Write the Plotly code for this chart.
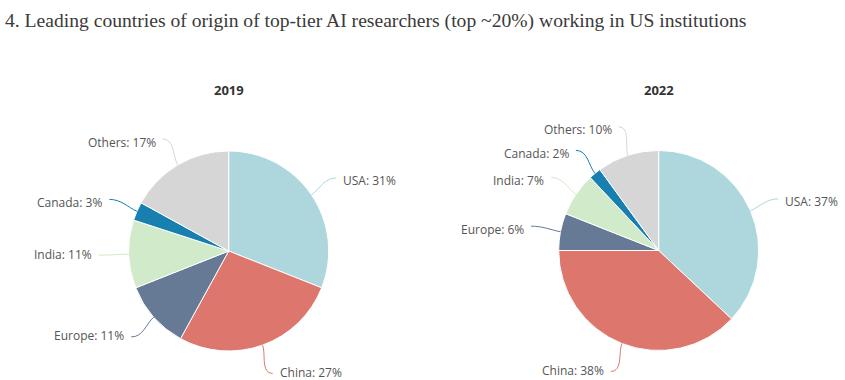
import math
import plotly.graph_objects as go

# ---- data ----
categories = ["USA", "China", "Europe", "India", "Canada", "Others"]
values_2019 = [31, 27, 11, 11, 3, 17]
values_2022 = [37, 38, 6, 7, 2, 10]
years = ["2019", "2022"]
colors = ["#aed6dd", "#dd766c", "#667a96", "#d1eaca", "#1780b1", "#d6d6d6"]
title_text = "4. Leading countries of origin of top-tier AI researchers (top ~20%) working in US institutions"

W, H = 845, 380
centers = [(228.7, 251.0), (658.7, 250.5)]
R = 100.0
LABEL_DIST = 30.0

def px(x):
    return x / W

def py(y):
    return 1 - y / H

fig = go.Figure()
annotations = []
shapes = []

for (cx, cy), year, vals in zip(centers, years, [values_2019, values_2022]):
    fig.add_trace(go.Pie(
        labels=categories, values=vals, sort=False, direction="clockwise", rotation=0,
        marker=dict(colors=colors, line=dict(color="white", width=1)),
        textinfo="none", hoverinfo="label+percent", showlegend=False,
        domain=dict(x=[px(cx - R), px(cx + R)], y=[py(cy + R), py(cy - R)]),
    ))
    annotations.append(dict(
        text="<b>" + year + "</b>", x=px(cx), y=py(90), xref="paper", yref="paper",
        showarrow=False, xanchor="center", yanchor="middle",
        font=dict(family="Open Sans", size=13, color="#333333"),
    ))
    total = sum(vals)
    cum = 0
    for cat, v, col in zip(categories, vals, colors):
        mid = (cum + v / 2) / total * 2 * math.pi
        cum += v
        sx, sy = math.sin(mid), -math.cos(mid)
        ax, ay = cx + (R + LABEL_DIST) * sx, cy + (R + LABEL_DIST) * sy
        ex, ey = cx + R * sx, cy + R * sy
        right = sx >= 0
        side = 1 if right else -1
        c1x, c1y = ax - side * 12, ay
        c2x, c2y = cx + (R + 10) * sx, cy + (R + 10) * sy
        path = "M {:.5f},{:.5f} C {:.5f},{:.5f} {:.5f},{:.5f} {:.5f},{:.5f}".format(
            px(ax), py(ay), px(c1x), py(c1y), px(c2x), py(c2y), px(ex), py(ey))
        shapes.append(dict(type="path", path=path, xref="paper", yref="paper",
                           line=dict(color=col, width=1)))
        ty = ay + (3 if sy < 0 else -1)
        annotations.append(dict(
            text="{}: {}%".format(cat, v), x=px(ax + side * 5), y=py(ty),
            xref="paper", yref="paper", showarrow=False,
            xanchor="left" if right else "right", yanchor="middle",
            font=dict(family="Open Sans", size=12, color="#555555"),
        ))

annotations.append(dict(
    text=title_text, x=px(3), y=py(21), xref="paper", yref="paper",
    showarrow=False, xanchor="left", yanchor="middle",
    font=dict(family="Liberation Serif", size=19.6, color="#3a3a3a"),
))

fig.update_layout(
    width=W, height=H, margin=dict(l=0, r=0, t=0, b=0),
    paper_bgcolor="white", plot_bgcolor="white",
    annotations=annotations, shapes=shapes,
)

fig.write_html("out.html", config={"displayModeBar": False},
               post_script="document.body.style.margin='0';")
